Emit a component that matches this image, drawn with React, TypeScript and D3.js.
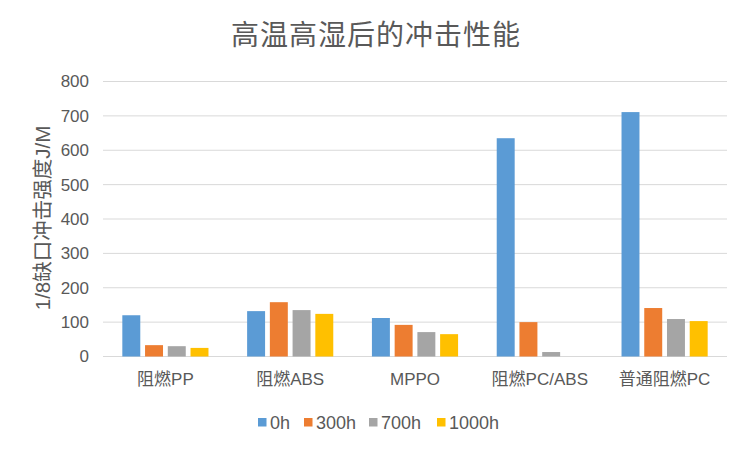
import React from "react";
import * as d3 from "d3";

const categories = ["阻燃PP", "阻燃ABS", "MPPO", "阻燃PC/ABS", "普通阻燃PC"];
const seriesNames = ["0h", "300h", "700h", "1000h"];
const s0h = [120, 132, 112, 635, 711];
const s300h = [33, 158, 92, 100, 141];
const s700h = [30, 135, 71, 13, 109];
const s1000h = [25, 124, 65, 0, 103];
const yTicks = [0, 100, 200, 300, 400, 500, 600, 700, 800];
const colors = ["#5B9BD5", "#ED7D31", "#A5A5A5", "#FFC000"];

const W = 750, H = 450;
const font = "'Liberation Sans', 'Noto Sans CJK SC', sans-serif";
const cjk = "'Noto Sans CJK SC', 'Liberation Sans', sans-serif";

export default function App() {
  const series = [s0h, s300h, s700h, s1000h];
  const left = 103, right = 727, top = 81.5, bottom = 356.5;
  const x0 = d3.scaleBand().domain(categories).range([left, right]).paddingInner(0).paddingOuter(0);
  const inner = d3.scaleBand().domain(seriesNames).range([0, x0.bandwidth()]).paddingInner(0.21).paddingOuter(0.85);
  const y = d3.scaleLinear().domain([0, 800]).range([bottom, top]);
  const legendX = [258, 304, 369, 437];
  return (
    <svg width={W} height={H} style={{ position: "absolute", left: 0, top: 0, background: "#fff" }}>
      <rect x={0} y={0} width={W} height={H} fill="#fff" />
      <text x={376} y={45} textAnchor="middle" fontFamily={cjk} fontSize={28} letterSpacing={1} fill="#595959">高温高湿后的冲击性能</text>
      {yTicks.map((t) => (
        <g key={t}>
          <line x1={left} x2={right} y1={y(t)} y2={y(t)} stroke="#D9D9D9" strokeWidth={1} />
          <text x={89} y={y(t)} dy="0.35em" textAnchor="end" fontFamily={font} fontSize={17} fill="#595959">{t}</text>
        </g>
      ))}
      <text transform={`translate(43,${218}) rotate(-90)`} textAnchor="middle" dy="0.35em" fontFamily={font} fontSize={20.5} fill="#595959">1/8缺口冲击强度J/M</text>
      {categories.map((c, ci) => (
        <g key={c}>
          {series.map((s, si) => (
            <rect key={si} x={(x0(c) as number) + (inner(seriesNames[si]) as number)} width={inner.bandwidth()} y={y(s[ci])} height={bottom - y(s[ci])} fill={colors[si]} />
          ))}
          <text x={(x0(c) as number) + x0.bandwidth() / 2} y={385} textAnchor="middle" fontFamily={font} fontSize={17} fill="#595959">{c}</text>
        </g>
      ))}
      {seriesNames.map((n, i) => (
        <g key={n}>
          <rect x={legendX[i]} y={418} width={8.5} height={8.5} fill={colors[i]} />
          <text x={legendX[i] + 12} y={423} dy="0.35em" fontFamily={font} fontSize={18} fill="#595959">{n}</text>
        </g>
      ))}
    </svg>
  );
}
